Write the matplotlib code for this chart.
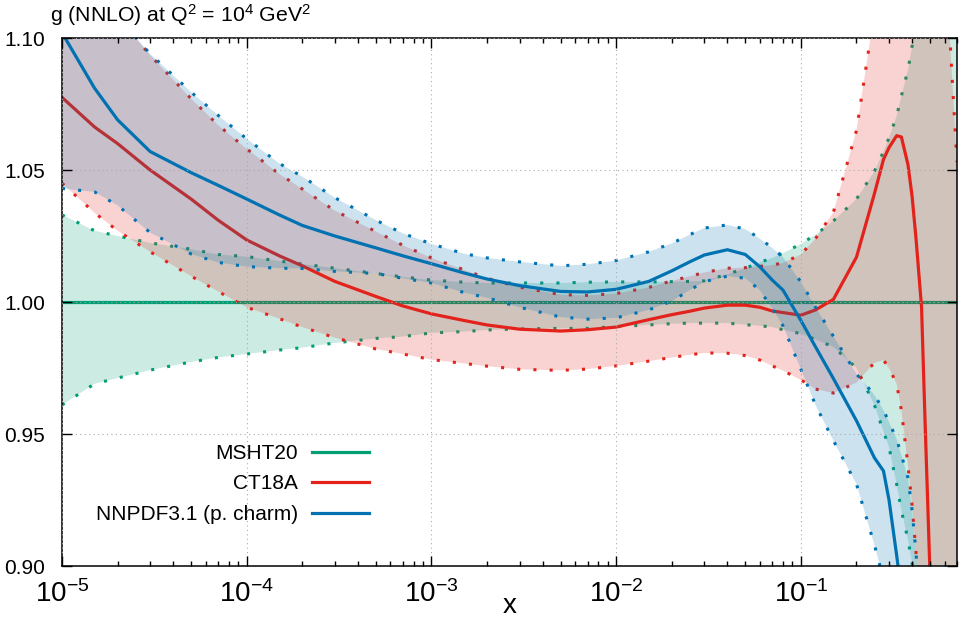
import numpy as np
import matplotlib
matplotlib.use("Agg")
import matplotlib.pyplot as plt
from matplotlib.lines import Line2D

plt.rcParams['font.family'] = ['Liberation Sans', 'DejaVu Sans']
plt.rcParams['mathtext.default'] = 'regular'

# x grid (momentum fraction)
x = [1e-5, 1.5e-5, 2e-5, 3e-5, 5e-5, 7e-5, 1e-4, 1.5e-4, 2e-4, 3e-4, 5e-4, 7e-4,
     1e-3, 1.5e-3, 2e-3, 3e-3, 5e-3, 7e-3, 1e-2, 1.5e-2, 2e-2, 2.5e-2, 3e-2, 4e-2,
     5e-2, 6e-2, 7e-2, 8e-2, 0.1, 0.12, 0.15, 0.2, 0.25, 0.28, 0.3, 0.33, 0.35, 0.38,
     0.4, 0.42, 0.45, 0.47, 0.5, 0.6, 0.65, 0.7]

# MSHT20 (reference, ratio = 1)
msht_c = [1.0] * len(x)
msht_up = [1.033, 1.027, 1.025, 1.0224, 1.020, 1.018, 1.0172, 1.0155, 1.0144, 1.0128, 1.0108, 1.0095,
           1.0083, 1.0075, 1.0072, 1.0072, 1.0072, 1.0075, 1.0076, 1.0076, 1.0077, 1.0078, 1.008, 1.0105,
           1.0128, 1.015, 1.0167, 1.0185, 1.022, 1.0255, 1.0307, 1.039, 1.0495, 1.057, 1.0622, 1.0705, 1.078,
           1.088, 1.097, 1.107, 1.125, 1.14, 1.16, 1.22, 1.25, 1.28]
msht_lo = [0.961, 0.969, 0.9712, 0.9742, 0.9773, 0.979, 0.9803, 0.9818, 0.9827, 0.9845, 0.9862, 0.9869,
           0.9883, 0.9888, 0.9894, 0.9898, 0.990, 0.990, 0.9907, 0.9913, 0.9918, 0.992, 0.992, 0.992,
           0.9914, 0.991, 0.9905, 0.9895, 0.988, 0.9858, 0.983, 0.975, 0.961, 0.951, 0.945, 0.931, 0.921,
           0.91, 0.901, 0.89, 0.87, 0.86, 0.84, 0.78, 0.75, 0.72]

# CT18A
ct_c = [1.0775, 1.0663, 1.060, 1.050, 1.039, 1.031, 1.0235, 1.0175, 1.0137, 1.0078, 1.0021, 0.9985,
        0.9955, 0.993, 0.9913, 0.9897, 0.989, 0.9895, 0.9905, 0.9933, 0.9952, 0.9965, 0.9977, 0.9988,
        0.9988, 0.998, 0.9966, 0.996, 0.995, 0.997, 1.001, 1.017, 1.041, 1.054, 1.0585, 1.063, 1.0625,
        1.052, 1.040, 1.024, 0.998, 0.955, 0.897, 0.75, 0.70, 0.65]
ct_up = [1.135, 1.118, 1.108, 1.0935, 1.077, 1.067, 1.058, 1.0485, 1.0428, 1.0346, 1.0267, 1.0215,
         1.0167, 1.0122, 1.009, 1.0056, 1.0028, 1.0025, 1.0032, 1.0055, 1.008, 1.0097, 1.0112, 1.0128,
         1.013, 1.0135, 1.014, 1.0148, 1.018, 1.024, 1.034, 1.065, 1.11, 1.15, 1.18, 1.22, 1.25,
         1.28, 1.30, 1.31, 1.32, 1.32, 1.30, 1.14, 1.092, 1.053]
ct_lo = [1.045, 1.0338, 1.027, 1.019, 1.0098, 1.004, 0.998, 0.9937, 0.9905, 0.9865, 0.9822, 0.9803,
         0.9782, 0.9767, 0.9757, 0.9745, 0.9741, 0.9746, 0.9758, 0.9776, 0.979, 0.980, 0.9807, 0.9806,
         0.9797, 0.978, 0.9758, 0.974, 0.9705, 0.967, 0.9655, 0.9695, 0.977, 0.978, 0.975, 0.969, 0.959,
         0.938, 0.923, 0.905, 0.87, 0.85, 0.83, 0.77, 0.74, 0.71]

# NNPDF3.1 (perturbative charm)
nn_c = [1.102, 1.081, 1.069, 1.057, 1.049, 1.0442, 1.039, 1.033, 1.029, 1.025, 1.0205, 1.0175,
        1.0145, 1.011, 1.0087, 1.0062, 1.004, 1.0038, 1.0048, 1.0078, 1.0118, 1.0152, 1.0178, 1.0198,
        1.018, 1.0133, 1.0083, 1.0045, 0.993, 0.983, 0.971, 0.955, 0.941, 0.936, 0.925, 0.904, 0.89,
        0.87, 0.86, 0.845, 0.82, 0.80, 0.78, 0.70, 0.66, 0.62]
nn_up = [1.135, 1.12, 1.108, 1.094, 1.0795, 1.0707, 1.0618, 1.0525, 1.0475, 1.0395, 1.031, 1.026,
         1.022, 1.0183, 1.0167, 1.0152, 1.0137, 1.0143, 1.0157, 1.019, 1.0222, 1.0255, 1.028, 1.0292,
         1.0276, 1.024, 1.0205, 1.017, 1.0076, 0.998, 0.987, 0.9727, 0.9648, 0.959, 0.9545, 0.948, 0.942,
         0.9334, 0.921, 0.905, 0.87, 0.85, 0.82, 0.76, 0.72, 0.68]
nn_lo = [1.043, 1.0417, 1.0366, 1.0263, 1.0182, 1.015, 1.0134, 1.0128, 1.0127, 1.0116, 1.0108, 1.009,
         1.0072, 1.0036, 1.0016, 0.998, 0.9943, 0.9935, 0.994, 0.997, 1.0003, 1.0045, 1.0077, 1.0098,
         1.009, 1.0045, 0.9975, 0.991, 0.9745, 0.961, 0.9475, 0.931, 0.908, 0.895, 0.885, 0.87, 0.86,
         0.845, 0.83, 0.815, 0.80, 0.785, 0.77, 0.70, 0.66, 0.60]

labels = ['MSHT20', 'CT18A', 'NNPDF3.1 (p. charm)']
colors = ['#009e73', '#e3231b', '#0072b2']
sets = [(msht_c, msht_up, msht_lo), (ct_c, ct_up, ct_lo), (nn_c, nn_up, nn_lo)]

fig = plt.figure(figsize=(9.63, 6.2), dpi=100)
ax = fig.add_axes([62 / 963, 1 - 566 / 620, 895 / 963, 528 / 620])

z = 1.0
for (c, up, lo), col in zip(sets, colors):
    ax.fill_between(x, lo, up, color=col, alpha=0.2, linewidth=0, zorder=z)
    for b in (up, lo):
        ax.plot(x, b, color=col, lw=2.2, linestyle=(0, (1.0, 4.3)),
                dash_capstyle='butt', zorder=z + 0.1)
    ax.plot(x, c, color=col, lw=2.3, zorder=z + 0.2)
    z += 0.4

ax.set_xscale('log')
ax.set_xlim(1e-5, 0.7)
ax.set_ylim(0.90, 1.10)
ax.set_yticks([0.90, 0.95, 1.00, 1.05, 1.10])
ax.set_yticklabels(['0.90', '0.95', '1.00', '1.05', '1.10'])
ax.set_xticks([1e-5, 1e-4, 1e-3, 1e-2, 1e-1])
ax.set_xticklabels(['$10^{-5}$', '$10^{-4}$', '$10^{-3}$', '$10^{-2}$', '$10^{-1}$'])
ax.minorticks_on()
ax.yaxis.set_minor_locator(matplotlib.ticker.NullLocator())
ax.tick_params(which='both', direction='in', top=True, right=True, width=1.0)
ax.tick_params(which='major', length=7.5)
ax.tick_params(which='minor', length=3.8)
ax.tick_params(axis='y', labelsize=15, pad=12)
ax.tick_params(axis='x', labelsize=20, pad=10)
for s in ax.spines.values():
    s.set_linewidth(1.1)

ax.set_axisbelow(False)
ax.grid(True, which='major', color='#aaaaaa', linestyle=(0, (1, 3)), linewidth=0.8)

fig.text(509.5 / 963, 1 - 606 / 620, 'x', ha='center', va='center', fontsize=20)
fig.text(50 / 963, 1 - 15 / 620, 'g (NNLO) at Q$^2$ = 10$^4$ GeV$^2$',
         ha='left', va='center', fontsize=15.3)

handles = [Line2D([], [], color=c, lw=2.3) for c in colors]
ax.legend(handles, labels, loc='upper right', bbox_to_anchor=(307 / 895, 122 / 528),
          markerfirst=False, frameon=False, fontsize=15, handlelength=2.75,
          handletextpad=0.65, labelspacing=0.55, borderpad=0, borderaxespad=0)

fig.savefig('out.png', dpi=100)
